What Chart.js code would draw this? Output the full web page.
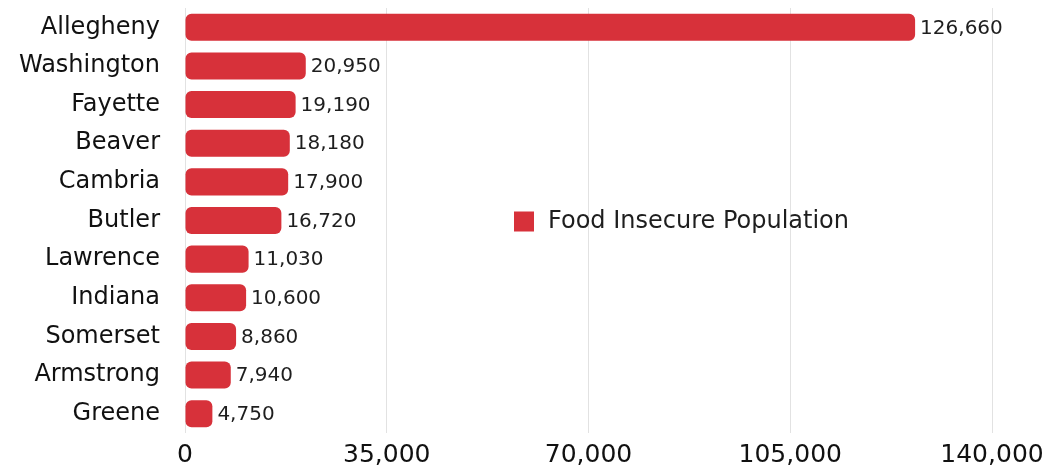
<!DOCTYPE html>
<html><head><meta charset="utf-8">
<script src="https://cdn.jsdelivr.net/npm/chart.js@4.4.0/dist/chart.umd.min.js"></script>
<style>html,body{margin:0;padding:0;background:#fff}#wrap{width:1043px;height:472px;position:relative}</style>
</head><body><div id="wrap"><canvas id="c"></canvas></div>
<script>
const categories = ["Allegheny","Washington","Fayette","Beaver","Cambria","Butler","Lawrence","Indiana","Somerset","Armstrong","Greene"];
const values = [126660,20950,19190,18180,17900,16720,11030,10600,8860,7940,4750];
const seriesName = "Food Insecure Population";
const xTicks = [0,35000,70000,105000,140000];
const RED = "#d7313a";
const FONT = "'DejaVu Sans', sans-serif";
const fmt = v => v.toLocaleString('en-US');

const valueLabels = {
  id: 'valueLabels',
  afterDatasetsDraw(chart) {
    const ctx = chart.ctx;
    const meta = chart.getDatasetMeta(0);
    ctx.save();
    ctx.font = "20px " + FONT;
    ctx.fillStyle = "#1e1e1e";
    ctx.textBaseline = "middle";
    ctx.textAlign = "left";
    meta.data.forEach((bar, i) => {
      ctx.fillText(fmt(chart.data.datasets[0].data[i]), bar.x + 5, bar.y + 1);
    });
    ctx.restore();
  }
};
const innerLegend = {
  id: 'innerLegend',
  afterDraw(chart) {
    const ctx = chart.ctx;
    const y = chart.scales.y.getPixelForValue(5);
    ctx.save();
    ctx.fillStyle = RED;
    ctx.fillRect(514, y - 9, 20, 20);
    ctx.font = "24px " + FONT;
    ctx.fillStyle = "#1e1e1e";
    ctx.textBaseline = "middle";
    ctx.textAlign = "left";
    ctx.fillText(chart.data.datasets[0].label, 548, y + 1);
    ctx.restore();
  }
};

new Chart(document.getElementById('c'), {
  type: 'bar',
  data: { labels: categories, datasets: [{ label: seriesName, data: values, backgroundColor: RED,
    borderRadius: 6, borderSkipped: false, barPercentage: 0.70, categoryPercentage: 1.0 }] },
  options: {
    indexAxis: 'y', responsive: true, maintainAspectRatio: false, animation: false,
    layout: { padding: { top: 8, right: 51, bottom: 0, left: 0 } },
    plugins: { legend: { display: false }, tooltip: { enabled: false } },
    scales: {
      x: { min: 0, max: 140000, afterBuildTicks(s){ s.ticks = xTicks.map(v=>({value:v})); },
        grid: { color: "#e2e2e2", drawTicks: false }, border: { display: false },
        ticks: { padding: 7, color: "#111", font: { family: FONT, size: 25 }, callback: v => fmt(v), maxRotation: 0 },
        afterFit(s){ s.height = 39; s.paddingLeft = 0; s.paddingRight = 0; } },
      y: { grid: { display: false, drawTicks: false }, border: { display: false },
        ticks: { padding: 25, color: "#111", font: { family: FONT, size: 24 } },
        afterFit(s){ s.width = 185; s.paddingTop = 0; s.paddingBottom = 0; } }
    }
  },
  plugins: [valueLabels, innerLegend]
});
</script></body></html>
